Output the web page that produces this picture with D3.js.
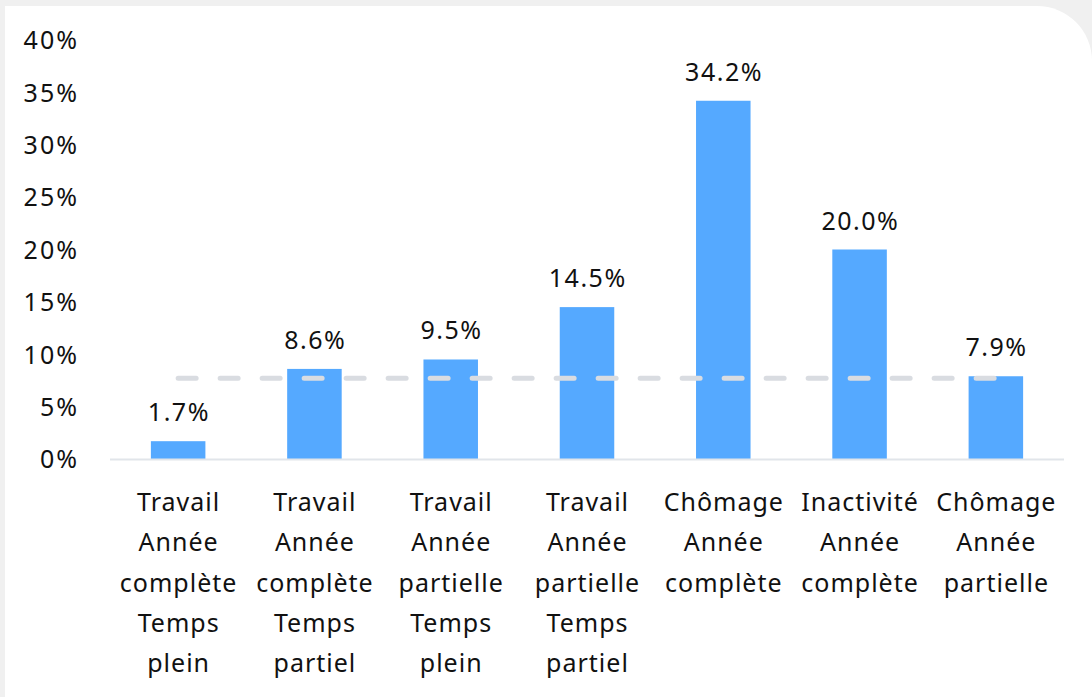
<!DOCTYPE html>
<html><head><meta charset="utf-8">
<script src="https://cdn.jsdelivr.net/npm/d3@7"></script>
<style>
html,body{margin:0;padding:0;background:#f0f0f0;}
svg{display:block;}
text{font-family:"Noto Sans",sans-serif;fill:#111;}
</style></head>
<body>
<svg id="c" width="1092" height="697"></svg>
<script>
const categories = [
  ["Travail","Année","complète","Temps","plein"],
  ["Travail","Année","complète","Temps","partiel"],
  ["Travail","Année","partielle","Temps","plein"],
  ["Travail","Année","partielle","Temps","partiel"],
  ["Chômage","Année","complète"],
  ["Inactivité","Année","complète"],
  ["Chômage","Année","partielle"]
];
const values = [1.7, 8.6, 9.5, 14.5, 34.2, 20.0, 7.9];
const referenceValue = 7.7;
const yTicks = [0, 5, 10, 15, 20, 25, 30, 35, 40];

const svg = d3.select("#c");
// panel
const W = 1092, H = 697, px = 5, py = 6, r = 55;
svg.append("path")
  .attr("d", `M${px},${py} H${W - r} A${r},${r} 0 0 1 ${W},${py + r} V${H} H${px} Z`)
  .attr("fill", "#ffffff");

const x = d3.scaleBand().domain(d3.range(values.length)).range([110, 1064]).paddingInner(0.6).paddingOuter(0.3);
const y = d3.scaleLinear().domain([0, 40]).range([459, 40]);

// y axis labels
const yAxis = d3.axisLeft(y).tickValues(yTicks).tickFormat(d => d + "%").tickSize(0).tickPadding(0);
const ya = svg.append("g").attr("transform", "translate(79,0)").call(yAxis);
ya.select(".domain").remove();
ya.selectAll("text").style("font-family", "Noto Sans").style("font-size", "25px")
  .style("letter-spacing", "2px").attr("fill", "#111").attr("dy", "0.35em");

// bars
svg.append("g").selectAll("rect").data(values).join("rect")
  .attr("x", (d, i) => x(i))
  .attr("width", x.bandwidth())
  .attr("y", d => y(d))
  .attr("height", d => y(0) - y(d))
  .attr("fill", "#55a9ff");

// x axis baseline
svg.append("line").attr("x1", 110).attr("x2", 1064).attr("y1", y(0) + 0.5).attr("y2", y(0) + 0.5)
  .attr("stroke", "#e1e5ea").attr("stroke-width", 2);

// reference dashed line
const cx = i => x(i) + x.bandwidth() / 2;
svg.append("line")
  .attr("x1", cx(0)).attr("x2", cx(values.length - 1))
  .attr("y1", y(referenceValue)).attr("y2", y(referenceValue))
  .attr("stroke", "#d9dce1").attr("stroke-width", 5)
  .attr("stroke-linecap", "round").attr("stroke-dasharray", "18 24");

// value labels
svg.append("g").selectAll("text").data(values).join("text")
  .attr("x", (d, i) => cx(i) + 0.75)
  .attr("y", d => y(d) - 20)
  .attr("text-anchor", "middle")
  .style("font-size", "25px")
  .style("letter-spacing", "1.5px")
  .text(d => d.toFixed(1) + "%");

// category labels
const cg = svg.append("g").selectAll("text").data(categories).join("text")
  .attr("x", (d, i) => cx(i) + 0.5)
  .attr("y", 511)
  .attr("text-anchor", "middle")
  .style("font-size", "25px")
  .style("letter-spacing", "1px");
cg.selectAll("tspan").data(d => d).join("tspan")
  .attr("x", function () { return d3.select(this.parentNode).attr("x"); })
  .attr("dy", (d, j) => j === 0 ? 0 : 40.3)
  .text(d => d);
</script>
</body></html>
